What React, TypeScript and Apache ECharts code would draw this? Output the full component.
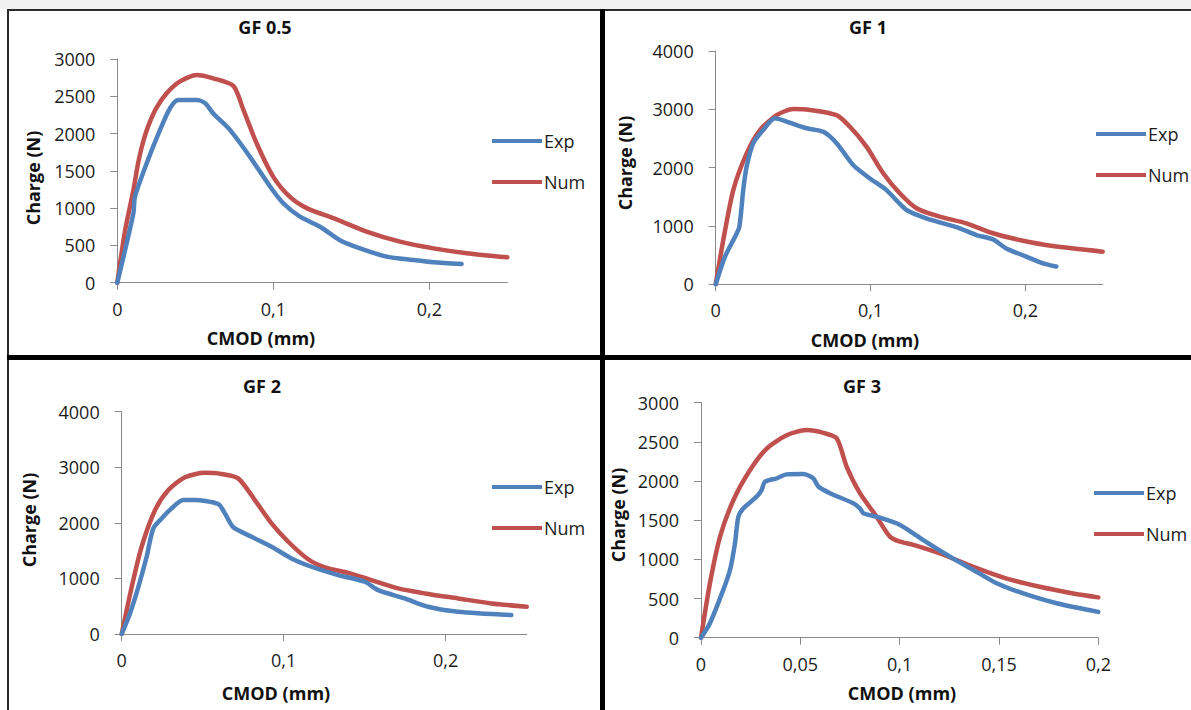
import React, { useEffect, useRef } from "react";
import * as echarts from "echarts";

// ---- Data (CMOD mm, Charge N) ----
const gf05Exp: [number, number][] = [
  [0, 0], [0.0103, 930], [0.0113, 1150], [0.0188, 1600], [0.0274, 2050], [0.0338, 2340],
  [0.0391, 2450], [0.0509, 2450], [0.0562, 2410], [0.0615, 2270], [0.0722, 2050],
  [0.085, 1690], [0.0979, 1290], [0.1064, 1065], [0.1171, 885], [0.13, 750],
  [0.1427, 570], [0.1556, 460], [0.1726, 350], [0.1897, 305], [0.2026, 275], [0.2207, 250],
];
const gf05Num: [number, number][] = [
  [0, 0], [0.005, 700], [0.0103, 1240], [0.0135, 1620], [0.0167, 1900], [0.02, 2110],
  [0.025, 2340], [0.0316, 2540], [0.0402, 2700], [0.0509, 2785], [0.0615, 2740],
  [0.0744, 2640], [0.0808, 2320], [0.0893, 1870], [0.1, 1420], [0.1107, 1150],
  [0.1214, 1000], [0.1385, 865], [0.1598, 685], [0.1812, 550], [0.2026, 460], [0.224, 395], [0.25, 340],
];
const gf1Exp: [number, number][] = [
  [0, 0], [0.006, 475], [0.0125, 815], [0.0153, 990], [0.0178, 1620], [0.02, 2020],
  [0.0243, 2420], [0.0308, 2650], [0.0383, 2845], [0.0458, 2790], [0.0587, 2675],
  [0.0695, 2615], [0.0781, 2420], [0.0888, 2045], [0.0996, 1815], [0.1103, 1615],
  [0.1232, 1275], [0.1361, 1130], [0.1576, 960], [0.1684, 845], [0.1791, 770],
  [0.1877, 615], [0.2006, 475], [0.2114, 360], [0.22, 305],
];
const gf1Num: [number, number][] = [
  [0, 0], [0.0049, 760], [0.0114, 1620], [0.02, 2245], [0.0286, 2645], [0.0394, 2900],
  [0.0501, 3005], [0.0609, 2990], [0.0781, 2900], [0.0867, 2700], [0.0974, 2360],
  [0.1082, 1905], [0.1189, 1560], [0.1297, 1305], [0.1447, 1160], [0.1619, 1045],
  [0.1791, 875], [0.1963, 760], [0.2178, 655], [0.25, 560],
];
const gf2Exp: [number, number][] = [
  [0, 0], [0.0051, 370], [0.0103, 850], [0.0154, 1390], [0.0195, 1900], [0.0247, 2080],
  [0.0308, 2260], [0.038, 2410], [0.0452, 2410], [0.0596, 2340], [0.0637, 2170],
  [0.0689, 1920], [0.0802, 1750], [0.0925, 1570], [0.1048, 1360], [0.1172, 1210],
  [0.1336, 1060], [0.1501, 940], [0.1583, 790], [0.1747, 640], [0.1891, 490],
  [0.2076, 400], [0.2405, 340],
];
const gf2Num: [number, number][] = [
  [0, 0], [0.0062, 850], [0.0123, 1570], [0.0206, 2230], [0.0288, 2590], [0.0391, 2820],
  [0.0514, 2900], [0.0617, 2880], [0.0719, 2800], [0.0822, 2410], [0.0925, 1990],
  [0.1028, 1660], [0.1151, 1345], [0.1254, 1200], [0.1398, 1100], [0.1542, 970],
  [0.1706, 820], [0.1871, 730], [0.2076, 640], [0.2282, 550], [0.25, 490],
];
const gf3Exp: [number, number][] = [
  [0, 0], [0.0045, 185], [0.0112, 610], [0.0146, 865], [0.0171, 1205], [0.0188, 1545],
  [0.0213, 1650], [0.028, 1800], [0.0305, 1885], [0.0322, 1990], [0.0381, 2035],
  [0.0431, 2085], [0.0515, 2090], [0.0565, 2035], [0.0591, 1930], [0.0649, 1845],
  [0.0767, 1715], [0.08, 1650], [0.0817, 1590], [0.0884, 1545], [0.1002, 1440],
  [0.1119, 1245], [0.1253, 1035], [0.1371, 865], [0.1488, 695], [0.1622, 565],
  [0.179, 440], [0.2, 330],
];
const gf3Num: [number, number][] = [
  [0, 0], [0.0045, 695], [0.0096, 1290], [0.0163, 1755], [0.0247, 2140], [0.0331, 2415],
  [0.0431, 2585], [0.0532, 2650], [0.0616, 2615], [0.0683, 2545], [0.0733, 2185],
  [0.08, 1845], [0.0884, 1545], [0.0951, 1290], [0.1002, 1225], [0.1069, 1185],
  [0.1203, 1075], [0.1371, 905], [0.1539, 755], [0.1706, 650], [0.1874, 565], [0.2, 515],
];

const panelTitles = ["GF 0.5", "GF 1", "GF 2", "GF 3"];
const xTickValues = [
  [0, 0.1, 0.2],
  [0, 0.1, 0.2],
  [0, 0.1, 0.2],
  [0, 0.05, 0.1, 0.15, 0.2],
];
const xMaxes = [0.25, 0.25, 0.25, 0.2];
const yMaxes = [3000, 4000, 4000, 3000];
const yIntervals = [500, 1000, 1000, 500];
const expSeries = [gf05Exp, gf1Exp, gf2Exp, gf3Exp];
const numSeries = [gf05Num, gf1Num, gf2Num, gf3Num];
const seriesNames = ["Exp", "Num"];
const xAxisName = "CMOD (mm)";
const yAxisName = "Charge (N)";

// ---- Layout / style ----
const FONT = "'Open Sans', 'Noto Sans', sans-serif";
const BLUE = "#4F81BD";
const RED = "#C0504D";
const AXIS = "#8a8a8a";

const layout = [
  { grid: { left: 117.3, top: 59, width: 390, height: 223.7 }, title: [265, 27], xName: [261, 338], yName: [32.5, 178], legend: [492, 132] },
  { grid: { left: 715.7, top: 51, width: 387, height: 233.3 }, title: [868, 27], xName: [865, 340], yName: [625, 163], legend: [1096, 125] },
  { grid: { left: 121.7, top: 411.7, width: 405, height: 222.3 }, title: [262, 386], xName: [276, 693], yName: [28.7, 520], legend: [492, 478] },
  { grid: { left: 701, top: 402.7, width: 397.3, height: 235 }, title: [862, 386], xName: [902, 693], yName: [618, 515], legend: [1094, 484] },
];

const fmtX = (v: number) => String(v).replace(".", ",");
const fmtY = (v: number) => String(v);

function buildOption() {
  const grids: any[] = [];
  const xAxes: any[] = [];
  const yAxes: any[] = [];
  const series: any[] = [];
  const legends: any[] = [];
  const graphics: any[] = [
    { type: "rect", shape: { x: 0, y: 0, width: 1191, height: 9 }, style: { fill: "#f0f0f0" }, silent: true },
    { type: "rect", shape: { x: 7, y: 9, width: 1184, height: 2 }, style: { fill: "#2a2a2a" }, silent: true },
    { type: "rect", shape: { x: 7, y: 9, width: 2, height: 701 }, style: { fill: "#2a2a2a" }, silent: true },
    { type: "rect", shape: { x: 7, y: 355, width: 1184, height: 5 }, style: { fill: "#000" }, silent: true },
    { type: "rect", shape: { x: 600, y: 9, width: 5, height: 701 }, style: { fill: "#000" }, silent: true },
  ];

  layout.forEach((L, i) => {
    grids.push({ ...L.grid, containLabel: false });
    xAxes.push({
      type: "value",
      gridIndex: i,
      min: 0,
      max: xMaxes[i],
      axisLine: { show: true, onZero: false, lineStyle: { color: AXIS, width: 1 } },
      axisTick: { show: true, length: 7, lineStyle: { color: AXIS }, customValues: xTickValues[i] },
      axisLabel: {
        customValues: xTickValues[i],
        formatter: fmtX,
        fontFamily: FONT,
        fontSize: 18,
        color: "#1c1c1c",
        margin: 17,
      },
      splitLine: { show: false },
    });
    yAxes.push({
      type: "value",
      gridIndex: i,
      min: 0,
      max: yMaxes[i],
      interval: yIntervals[i],
      axisLine: { show: true, lineStyle: { color: AXIS, width: 1 } },
      axisTick: { show: true, length: 7, lineStyle: { color: AXIS } },
      axisLabel: { formatter: fmtY, fontFamily: FONT, fontSize: 18, color: "#1c1c1c", margin: 22 },
      splitLine: { show: false },
    });
    [expSeries[i], numSeries[i]].forEach((d, k) => {
      series.push({
        type: "line",
        name: seriesNames[k],
        xAxisIndex: i,
        yAxisIndex: i,
        data: d,
        showSymbol: false,
        smooth: 0.25,
        lineStyle: { width: 4.5, color: k === 0 ? BLUE : RED, cap: "round", join: "round" },
        itemStyle: { color: k === 0 ? BLUE : RED },
        z: k === 0 ? 3 : 2,
      });
    });
    legends.push({
      orient: "vertical",
      left: L.legend[0],
      top: L.legend[1],
      padding: 0,
      itemWidth: 50,
      itemHeight: 4,
      itemGap: 23,
      icon: "rect",
      data: seriesNames,
      selectedMode: false,
      textStyle: { fontFamily: FONT, fontSize: 18, color: "#1c1c1c", padding: [0, 0, 0, -3] },
    });
    graphics.push({
      type: "text",
      x: L.title[0],
      y: L.title[1],
      style: { text: panelTitles[i], fontFamily: FONT, fontSize: 18, fontWeight: "bold", fill: "#111", textAlign: "center", textVerticalAlign: "middle" },
    });
    graphics.push({
      type: "text",
      x: L.xName[0],
      y: L.xName[1],
      style: { text: xAxisName, fontFamily: FONT, fontSize: 18, fontWeight: "bold", fill: "#111", textAlign: "center", textVerticalAlign: "middle" },
    });
    graphics.push({
      type: "text",
      x: L.yName[0],
      y: L.yName[1],
      rotation: Math.PI / 2,
      style: { text: yAxisName, fontFamily: FONT, fontSize: 18, fontWeight: "bold", fill: "#111", textAlign: "center", textVerticalAlign: "middle" },
    });
  });

  return {
    animation: false,
    backgroundColor: "#ffffff",
    grid: grids,
    xAxis: xAxes,
    yAxis: yAxes,
    series,
    legend: legends,
    graphic: graphics,
  };
}

export default function App() {
  const ref = useRef<HTMLDivElement>(null);
  useEffect(() => {
    const chart = echarts.init(ref.current!, null, { renderer: "svg" });
    chart.setOption(buildOption() as any);
    return () => chart.dispose();
  }, []);
  return (
    <div
      ref={ref}
      style={{ position: "fixed", left: 0, top: 0, width: 1191, height: 710, background: "#fff" }}
    />
  );
}
